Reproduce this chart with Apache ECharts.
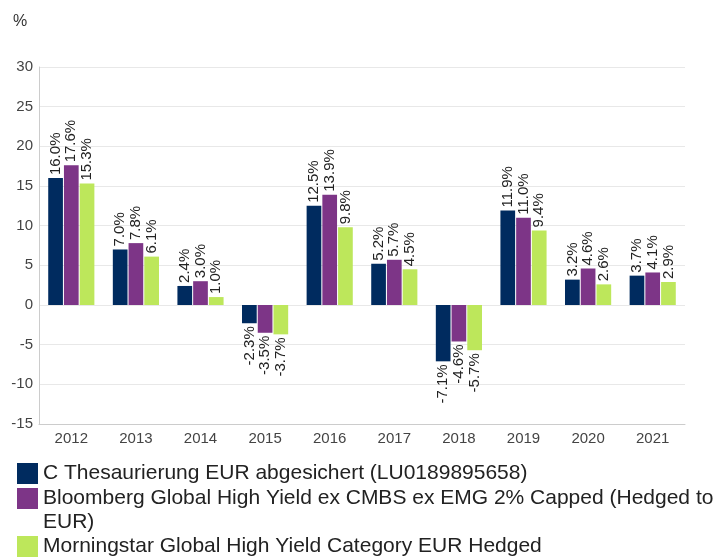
<!DOCTYPE html>
<html>
<head>
<meta charset="utf-8">
<script src="https://cdn.jsdelivr.net/npm/echarts@6/dist/echarts.min.js"></script>
<style>
  html, body { margin: 0; padding: 0; background: #fff; }
  #chart { width: 727px; height: 559px; }
</style>
</head>
<body>
<div id="chart"></div>
<script>
// Jahreswerte in %
const years = ["2012", "2013", "2014", "2015", "2016", "2017", "2018", "2019", "2020", "2021"];
const fundValues = [16.0, 7.0, 2.4, -2.3, 12.5, 5.2, -7.1, 11.9, 3.2, 3.7];
const indexValues = [17.6, 7.8, 3.0, -3.5, 13.9, 5.7, -4.6, 11.0, 4.6, 4.1];
const categoryValues = [15.3, 6.1, 1.0, -3.7, 9.8, 4.5, -5.7, 9.4, 2.6, 2.9];
const seriesNames = [
  "C Thesaurierung EUR abgesichert (LU0189895658)",
  "Bloomberg Global High Yield ex CMBS ex EMG 2% Capped (Hedged to EUR)",
  "Morningstar Global High Yield Category EUR Hedged"
];
const colors = ["#002b5f", "#7d3587", "#bde75b"];

const chart = echarts.init(document.getElementById("chart"));

// Label oben bei positiven, unten bei negativen Balken
function toData(values) {
  return values.map(v => ({
    value: v,
    label: { align: v < 0 ? "right" : "left" }
  }));
}

function makeSeries(idx, values) {
  return {
    name: seriesNames[idx],
    type: "bar",
    data: toData(values),
    barWidth: 14.7,
    barGap: "7%",
    itemStyle: { color: colors[idx] },
    label: {
      show: true,
      position: "outside",
      rotate: 90,
      distance: 3,
      verticalAlign: "middle",
      fontSize: 15,
      fontFamily: "Liberation Sans, Arial, sans-serif",
      color: "#222",
      formatter: p => p.value.toFixed(1) + "%"
    }
  };
}

const legendText = {
  fontSize: 21,
  lineHeight: 24,
  color: "#222",
  fontFamily: "Liberation Sans, Arial, sans-serif",
  width: 685,
  overflow: "break"
};

// jede Legendenzeile einzeln, damit das Icon an der ersten Textzeile sitzt
function makeLegend(idx, top, formatter) {
  return {
    data: [seriesNames[idx]],
    left: 17,
    top: top,
    padding: 0,
    icon: "rect",
    itemWidth: 21,
    itemHeight: 21,
    selectedMode: false,
    formatter: formatter || "{name}",
    textStyle: legendText
  };
}

const option = {
  animation: false,
  title: {
    text: "%",
    left: 8,
    top: 9,
    textStyle: {
      fontSize: 16,
      fontWeight: "normal",
      color: "#333",
      fontFamily: "Liberation Sans, Arial, sans-serif"
    }
  },
  grid: {
    left: 39,
    right: 42,
    top: 67,
    bottom: 135
  },
  legend: [
    makeLegend(0, 461.5),
    makeLegend(1, 462.5, name => "\n" + name),
    makeLegend(2, 534.5)
  ],
  xAxis: {
    type: "category",
    data: years,
    axisLine: { onZero: false, lineStyle: { color: "#ccc" } },
    axisTick: { show: false },
    axisLabel: {
      margin: 7,
      fontSize: 15,
      color: "#444",
      fontFamily: "Liberation Sans, Arial, sans-serif"
    }
  },
  yAxis: {
    type: "value",
    min: -15,
    max: 30,
    interval: 5,
    axisLine: { show: true, lineStyle: { color: "#ccc" } },
    axisTick: { show: false },
    splitLine: { lineStyle: { color: "#e8e8e8" } },
    axisLabel: {
      margin: 6,
      fontSize: 15,
      color: "#444",
      fontFamily: "Liberation Sans, Arial, sans-serif"
    }
  },
  series: [
    makeSeries(0, fundValues),
    makeSeries(1, indexValues),
    makeSeries(2, categoryValues)
  ]
};

chart.setOption(option);
</script>
</body>
</html>
